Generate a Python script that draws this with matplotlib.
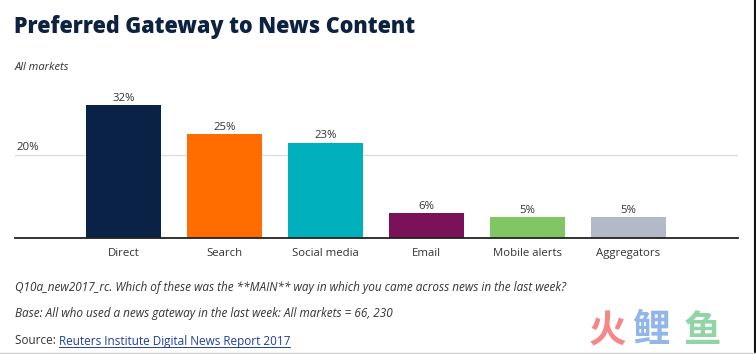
import matplotlib
matplotlib.use("Agg")
import matplotlib.pyplot as plt

categories = ["Direct", "Search", "Social media", "Email", "Mobile alerts", "Aggregators"]
values = [32, 25, 23, 6, 5, 5]
colors = ["#0a2245", "#ff6c00", "#00b1bd", "#7b1259", "#80c665", "#b4b9c8"]
grid_ticks = [20]

W, H = 756, 354
fig = plt.figure(figsize=(W / 100, H / 100), dpi=100)
fig.patch.set_facecolor("white")

def px(x, y):
    return x / W, 1 - y / H

plt.rcParams["font.family"] = ["Open Sans", "DejaVu Sans"]
text_col = "#333333"

# title and subtitle
fig.text(*px(14, 27), "Preferred Gateway to News Content", fontsize=15.5,
         fontweight="heavy", color="#0d2240", va="center", ha="left")
fig.text(*px(15, 67), "All markets", fontsize=8, style="italic",
         color=text_col, va="center", ha="left")

# bars
ax = fig.add_axes([15 / W, (H - 238) / H, (738 - 15) / W, (238 - 72) / H])
x = list(range(len(categories)))
ax.bar(x, values, width=0.743, color=colors, zorder=3)
ax.set_xlim(-1.074, len(categories) - 1 + 1.084)
ax.set_ylim(0, 40)

for g in grid_ticks:
    ax.axhline(g, color="#dcdcdc", lw=0.9, zorder=1)
    ax.text(-1.06, g + 0.4, f"{g}%", fontsize=8.2, color=text_col,
            va="bottom", ha="left")

for xi, v in zip(x, values):
    ax.text(xi, v + 0.3, f"{v}%", fontsize=8.2, color=text_col,
            ha="center", va="bottom")

ax.axhline(0, color="#222222", lw=1.3, zorder=4, clip_on=False)
for s in ax.spines.values():
    s.set_visible(False)
ax.set_yticks([])
ax.set_xticks(x)
ax.set_xticklabels(categories, fontsize=8.2, color=text_col)
ax.tick_params(axis="x", length=0, pad=7)

# footer
fs = 8.5
fig.text(*px(15, 287), "Q10a_new2017_rc. Which of these was the **MAIN** way in which you came across news in the last week?",
         fontsize=fs, style="italic", color=text_col, va="center", ha="left")
fig.text(*px(15, 313), "Base: All who used a news gateway in the last week: All markets = 66, 230",
         fontsize=fs, style="italic", color=text_col, va="center", ha="left")
src = fig.text(*px(15, 341), "Source: ", fontsize=fs, color=text_col,
               va="center", ha="left")
fig.canvas.draw()
bb = src.get_window_extent()
link = fig.text(bb.x1 / W, 1 - 341 / H, "Reuters Institute Digital News Report 2017",
                fontsize=fs, color="#1f3f9a", va="center", ha="left")
fig.canvas.draw()
lb = link.get_window_extent()
fig.add_artist(plt.Line2D([lb.x0 / W, lb.x1 / W], [(lb.y0 + 0.5) / H] * 2,
                          color="#1f3f9a", lw=0.7))

# watermark
for ch, col, xp in [("火", "#f47a7a", 589), ("鲤", "#86aee8", 632), ("鱼", "#86cf9e", 684)]:
    fig.text(*px(xp, 330), ch, fontsize=27, fontweight="bold", color=col,
             family=["Noto Sans CJK SC", "DejaVu Sans"], va="center", ha="left", alpha=0.9)

# card edges
fig.add_artist(plt.Line2D([1 - 1 / W, 1 - 1 / W], [0, 1], color="#111111", lw=1.5))
fig.add_artist(plt.Line2D([0, 1], [1.5 / H, 1.5 / H], color="#d0d0d0", lw=1))

fig.savefig("out.png", dpi=100)
